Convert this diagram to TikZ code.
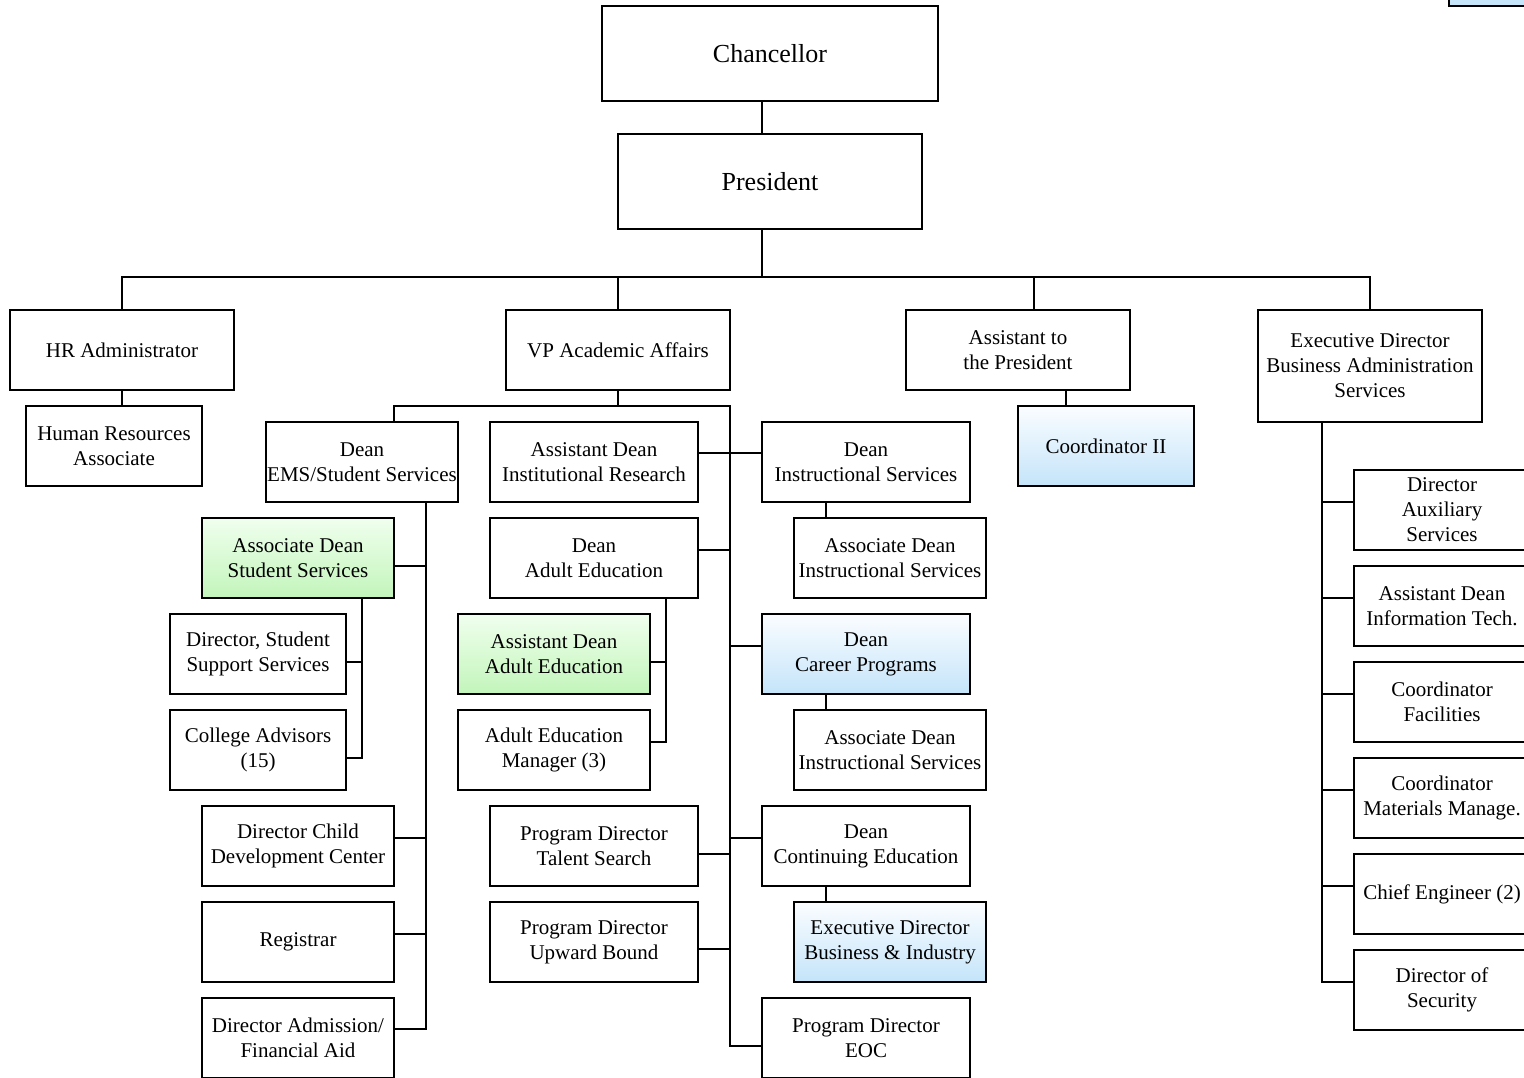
\documentclass[tikz,border=0pt]{standalone}
\usepackage{fontspec}
\setmainfont{Liberation Serif}
\usetikzlibrary{calc}
\definecolor{greentop}{HTML}{F0FFEE}
\definecolor{greenbot}{HTML}{C2F5BA}
\definecolor{bluetop}{HTML}{FBFDFF}
\definecolor{bluebot}{HTML}{C4E4FA}
\tikzset{
  orgbox/.style={draw, line width=2pt, inner sep=0pt, align=center,
    minimum height=80pt, font=\fontsize{21}{25}\selectfont},
  bigbox/.style={orgbox, minimum height=95pt, font=\fontsize{26}{30}\selectfont},
  greenbox/.style={orgbox, top color=greentop, bottom color=greenbot},
  bluebox/.style={orgbox, top color=bluetop, bottom color=bluebot},
  link/.style={line width=2pt}
}
\begin{document}
\begin{tikzpicture}[x=1pt,y=-1pt]
\useasboundingbox (0,0) rectangle (1524,1078);

% partial box at the upper right corner
\draw[line width=2pt, top color=bluetop, bottom color=bluebot] (1449,-100) rectangle (1540,6);

% top levels
\node[bigbox, minimum width=336pt] (chan) at (770,53.5) {Chancellor};
\node[bigbox, minimum width=304pt] (pres) at (770,181.5) {President};

% second level
\node[orgbox, minimum width=224pt] (hra) at (122,350) {HR Administrator};
\node[orgbox, minimum width=224pt] (vpaa) at (618,350) {VP Academic Affairs};
\node[orgbox, minimum width=224pt] (asstp) at (1018,350) {Assistant to\\the President};
\node[orgbox, minimum width=224pt, minimum height=112pt] (edbas) at (1370,366) {Executive Director\\Business Administration\\Services};

\node[orgbox, minimum width=176pt] (hrassoc) at (114,446) {Human Resources\\Associate};
\node[bluebox, minimum width=176pt] (coord) at (1106,446) {Coordinator II};

% business administration column
\node[orgbox, minimum width=176pt] (daux) at (1442,510) {Director\\Auxiliary\\Services};
\node[orgbox, minimum width=176pt] (adit) at (1442,606) {Assistant Dean\\Information Tech.};
\node[orgbox, minimum width=176pt] (cfac) at (1442,702) {Coordinator\\Facilities};
\node[orgbox, minimum width=176pt] (cmat) at (1442,798) {Coordinator\\Materials Manage.};
\node[orgbox, minimum width=176pt] (ceng) at (1442,894) {Chief Engineer (2)};
\node[orgbox, minimum width=176pt] (dsec) at (1442,990) {Director of\\Security};

% student services branch
\node[orgbox, minimum width=192pt] (deanems) at (362,462) {Dean\\EMS/Student Services};
\node[greenbox, minimum width=192pt] (adss) at (298,558) {Associate Dean\\Student Services};
\node[orgbox, minimum width=176pt] (dsss) at (258,654) {Director, Student\\Support Services};
\node[orgbox, minimum width=176pt] (cadv) at (258,750) {College Advisors\\(15)};
\node[orgbox, minimum width=192pt] (dcdc) at (298,846) {Director Child\\Development Center};
\node[orgbox, minimum width=192pt] (reg) at (298,942) {Registrar};
\node[orgbox, minimum width=192pt] (dafa) at (298,1038) {Director Admission/\\Financial Aid};

% academic branch, left side
\node[orgbox, minimum width=208pt] (adir) at (594,462) {Assistant Dean\\Institutional Research};
\node[orgbox, minimum width=208pt] (deanae) at (594,558) {Dean\\Adult Education};
\node[greenbox, minimum width=192pt] (adae) at (554,654) {Assistant Dean\\Adult Education};
\node[orgbox, minimum width=192pt] (aem) at (554,750) {Adult Education\\Manager (3)};
\node[orgbox, minimum width=208pt] (pdts) at (594,846) {Program Director\\Talent Search};
\node[orgbox, minimum width=208pt] (pdub) at (594,942) {Program Director\\Upward Bound};

% academic branch, right side
\node[orgbox, minimum width=208pt] (deanis) at (866,462) {Dean\\Instructional Services};
\node[orgbox, minimum width=192pt] (adis) at (890,558) {Associate Dean\\Instructional Services};
\node[bluebox, minimum width=208pt] (deancp) at (866,654) {Dean\\Career Programs};
\node[orgbox, minimum width=192pt] (adisb) at (890,750) {Associate Dean\\Instructional Services};
\node[orgbox, minimum width=208pt] (deance) at (866,846) {Dean\\Continuing Education};
\node[bluebox, minimum width=192pt] (edbi) at (890,942) {Executive Director\\Business \& Industry};
\node[orgbox, minimum width=208pt] (pdeoc) at (866,1038) {Program Director\\EOC};

% junction points
\coordinate (bus) at (762,277);
\coordinate (vbus) at (618,406);
\coordinate (vspine) at (730,406);
\coordinate (espine) at ([xshift=-48pt]edbas.south);
\coordinate (sspine) at ([xshift=64pt]deanems.south);
\coordinate (aspine) at ([xshift=64pt]adss.south);
\coordinate (dspine) at ([xshift=72pt]deanae.south);

% connectors
\draw[link] ([xshift=-8pt]chan.south) -- ([xshift=-8pt]pres.north);
\draw[link] ([xshift=-8pt]pres.south) -- (bus);
\draw[link] (hra.north) -- (hra.north |- bus) -- (edbas.north |- bus) -- (edbas.north);
\draw[link] (vpaa.north) -- (vpaa.north |- bus);
\draw[link] ([xshift=16pt]asstp.north) -- ([xshift=16pt]asstp.north |- bus);
\draw[link] (hra.south) -- (hra.south |- hrassoc.north);
\draw[link] ([xshift=-40pt]coord.north) -- ([xshift=-40pt]coord.north |- asstp.south);

% business administration column
\draw[link] (espine) -- ([yshift=8pt]dsec.west -| espine) -- ([yshift=8pt]dsec.west);
\foreach \n in {daux,adit,cfac,cmat,ceng}
  \draw[link] ([yshift=8pt]\n.west) -- ([yshift=8pt]\n.west -| espine);

% academic affairs
\draw[link] (vpaa.south) -- (vbus);
\draw[link] ([xshift=32pt]deanems.north) -- ([xshift=32pt]deanems.north |- vbus) -- (vspine) -- ([yshift=-8pt]pdeoc.west -| vspine) -- ([yshift=-8pt]pdeoc.west);
\draw[link] ([yshift=9pt]adir.east) -- ([yshift=9pt]adir.east -| deanis.west);
\draw[link] ([yshift=8pt]deanae.east) -- ([yshift=8pt]deanae.east -| vspine);
\draw[link] ([yshift=8pt]deancp.west) -- ([yshift=8pt]deancp.west -| vspine);
\draw[link] ([yshift=8pt]deance.west) -- ([yshift=8pt]deance.west -| vspine);
\draw[link] ([yshift=-8pt]pdts.east) -- ([yshift=-8pt]pdts.east -| vspine);
\draw[link] ([yshift=-7pt]pdub.east) -- ([yshift=-7pt]pdub.east -| vspine);
\draw[link] ([xshift=-40pt]deanis.south) -- ([xshift=-40pt]deanis.south |- adis.north);
\draw[link] ([xshift=-40pt]deancp.south) -- ([xshift=-40pt]deancp.south |- adisb.north);
\draw[link] ([xshift=-40pt]deance.south) -- ([xshift=-40pt]deance.south |- edbi.north);

% adult education
\draw[link] (dspine) -- ([yshift=8pt]aem.east -| dspine) -- ([yshift=8pt]aem.east);
\draw[link] ([yshift=-8pt]adae.east) -- ([yshift=-8pt]adae.east -| dspine);

% student services
\draw[link] (sspine) -- ([yshift=9pt]dafa.east -| sspine) -- ([yshift=9pt]dafa.east);
\draw[link] ([yshift=-8pt]adss.east) -- ([yshift=-8pt]adss.east -| sspine);
\draw[link] ([yshift=8pt]dcdc.east) -- ([yshift=8pt]dcdc.east -| sspine);
\draw[link] ([yshift=8pt]reg.east) -- ([yshift=8pt]reg.east -| sspine);
\draw[link] (aspine) -- ([yshift=-8pt]cadv.east -| aspine) -- ([yshift=-8pt]cadv.east);
\draw[link] ([yshift=-8pt]dsss.east) -- ([yshift=-8pt]dsss.east -| aspine);
\end{tikzpicture}
\end{document}
